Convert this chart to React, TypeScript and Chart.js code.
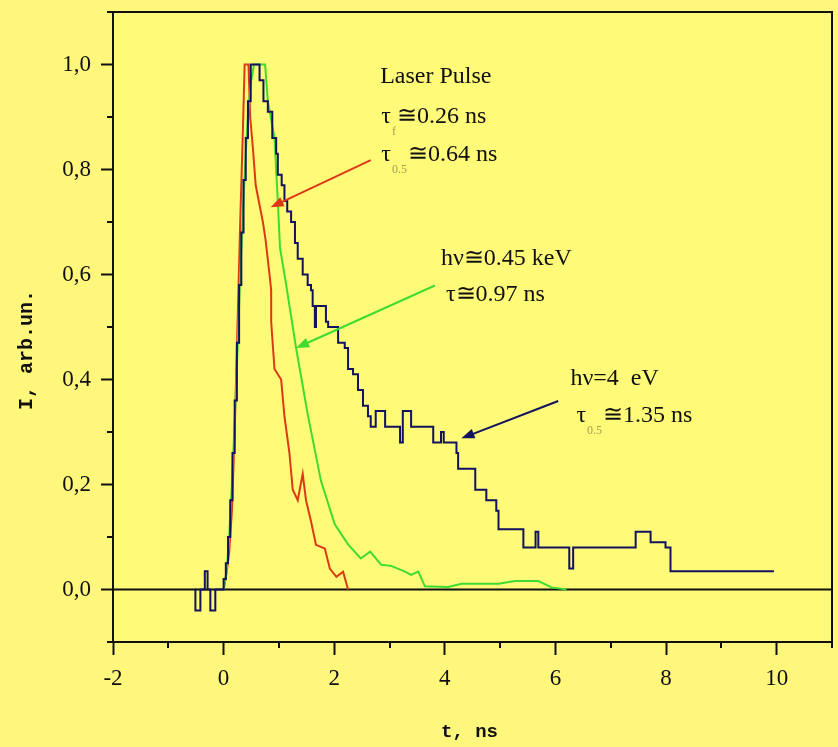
import React, { useEffect, useRef } from 'react';
import { Chart, registerables } from 'chart.js';

Chart.register(...registerables);

// ---- time axis (ns) and intensity (arb. units) for each trace ----
const laserT = [0.0, 0.05, 0.1, 0.15, 0.2, 0.25, 0.3, 0.35, 0.38, 0.45, 0.48, 0.53, 0.58, 0.71, 0.76, 0.83, 0.86, 0.86, 0.92, 1.04, 1.1, 1.19, 1.25, 1.34, 1.43, 1.49, 1.58, 1.67, 1.83, 1.92, 2.04, 2.16, 2.25];
const laserI = [0.0, 0.03, 0.07, 0.15, 0.3, 0.5, 0.7, 0.88, 1.0, 1.0, 0.9, 0.84, 0.77, 0.7, 0.665, 0.6, 0.57, 0.51, 0.42, 0.4, 0.33, 0.26, 0.19, 0.17, 0.22, 0.17, 0.13, 0.085, 0.078, 0.04, 0.024, 0.034, 0.0];

const keVT = [0.0, 0.05, 0.1, 0.15, 0.2, 0.25, 0.3, 0.35, 0.4, 0.45, 0.5, 0.55, 0.75, 0.8, 0.92, 0.98, 1.02, 1.1, 1.12, 1.31, 1.52, 1.76, 2.01, 2.25, 2.48, 2.65, 2.85, 3.03, 3.28, 3.39, 3.52, 3.64, 4.06, 4.3, 4.97, 5.27, 5.69, 5.93, 6.2];
const keVI = [0.0, 0.03, 0.1, 0.2, 0.32, 0.45, 0.6, 0.72, 0.83, 0.92, 0.97, 1.0, 1.0, 0.93, 0.86, 0.74, 0.65, 0.6, 0.588, 0.46, 0.334, 0.207, 0.124, 0.086, 0.059, 0.072, 0.047, 0.045, 0.034, 0.028, 0.034, 0.006, 0.005, 0.011, 0.011, 0.016, 0.016, 0.004, 0.0];

// 4 eV trace is a sampled staircase: each level holds from its time stamp to the next one
const eVT = [-0.52, -0.51, -0.42, -0.34, -0.29, -0.24, -0.15, 0.0, 0.04, 0.08, 0.12, 0.16, 0.2, 0.24, 0.28, 0.32, 0.36, 0.4, 0.44, 0.49, 0.65, 0.72, 0.8, 0.88, 0.95, 0.98, 1.05, 1.1, 1.15, 1.22, 1.29, 1.34, 1.43, 1.52, 1.58, 1.61, 1.65, 1.67, 1.85, 1.89, 2.07, 2.19, 2.25, 2.34, 2.43, 2.52, 2.61, 2.66, 2.75, 2.92, 3.19, 3.24, 3.39, 3.79, 3.93, 3.98, 4.21, 4.24, 4.55, 4.75, 4.93, 4.97, 5.42, 5.64, 5.69, 6.25, 6.32, 7.45, 7.72, 7.99, 8.08, 9.95];
const eVI = [0.0, -0.04, 0.0, 0.035, 0.0, -0.04, 0.0, 0.02, 0.05, 0.1, 0.17, 0.26, 0.36, 0.47, 0.58, 0.68, 0.78, 0.86, 0.93, 1.0, 0.97, 0.93, 0.91, 0.86, 0.83, 0.79, 0.77, 0.74, 0.72, 0.7, 0.66, 0.63, 0.6, 0.58, 0.57, 0.54, 0.5, 0.54, 0.51, 0.5, 0.47, 0.46, 0.42, 0.41, 0.38, 0.35, 0.33, 0.31, 0.34, 0.31, 0.28, 0.34, 0.31, 0.28, 0.3, 0.28, 0.26, 0.23, 0.19, 0.17, 0.15, 0.115, 0.08, 0.11, 0.08, 0.04, 0.08, 0.11, 0.09, 0.08, 0.035, 0.035];

// ---- axis ticks ----
const xMajor = [-2, 0, 2, 4, 6, 8, 10];
const xMinor = [-1, 1, 3, 5, 7, 9, 11];
const yMajor = [0, 0.2, 0.4, 0.6, 0.8, 1.0];
const yMinor = [-0.1, 0.1, 0.3, 0.5, 0.7, 0.9, 1.1];

const xTitle = 't, ns';
const yTitle = 'I, arb.un.';

const PAGE_BG = '#fff67c';
const PLOT_BG = '#fffa78';
const INK = '#101010';
const RED = '#dc3a16';
const GREEN = '#3edc30';
const NAVY = '#12125e';
const SUB = '#a3a24e';

type Run = { text: string; sub?: boolean };
type Label = { x: number; y: number; runs: Run[] };
type Arrow = { from: [number, number]; to: [number, number]; color: string };

const labels: Label[] = [
  { x: 2.83, y: 0.965, runs: [{ text: 'Laser Pulse' }] },
  { x: 2.85, y: 0.889, runs: [{ text: 'τ' }, { text: 'f', sub: true }, { text: '≅0.26 ns' }] },
  { x: 2.85, y: 0.817, runs: [{ text: 'τ' }, { text: '0.5', sub: true }, { text: '≅0.64 ns' }] },
  { x: 3.93, y: 0.619, runs: [{ text: 'hν≅0.45 keV' }] },
  { x: 4.02, y: 0.549, runs: [{ text: 'τ≅0.97 ns' }] },
  { x: 6.27, y: 0.39, runs: [{ text: 'hν=4  eV' }] },
  { x: 6.38, y: 0.319, runs: [{ text: 'τ' }, { text: '0.5', sub: true }, { text: '≅1.35 ns' }] },
];

const arrows: Arrow[] = [
  { from: [2.66, 0.818], to: [0.85, 0.728], color: RED },
  { from: [3.82, 0.579], to: [1.31, 0.46], color: GREEN },
  { from: [6.05, 0.359], to: [4.3, 0.288], color: NAVY },
];

const pts = (t: number[], v: number[]) => t.map((x, i) => ({ x, y: v[i] }));

const decor = {
  id: 'decor',
  beforeDraw(chart: any) {
    const { ctx, chartArea: a } = chart;
    ctx.save();
    ctx.fillStyle = PLOT_BG;
    ctx.fillRect(a.left, a.top, a.right - a.left, a.bottom - a.top);
    ctx.restore();
  },
  beforeDatasetsDraw(chart: any) {
    const { ctx, chartArea: a, scales } = chart;
    const y0 = scales.y.getPixelForValue(0);
    ctx.save();
    ctx.strokeStyle = INK;
    ctx.lineWidth = 2;
    ctx.beginPath();
    ctx.moveTo(a.left, y0);
    ctx.lineTo(a.right, y0);
    ctx.stroke();
    ctx.restore();
  },
  afterDraw(chart: any) {
    const { ctx, chartArea: a, scales } = chart;
    const sx = scales.x;
    const sy = scales.y;
    ctx.save();
    // frame
    ctx.strokeStyle = INK;
    ctx.lineWidth = 2;
    ctx.strokeRect(a.left, a.top, a.right - a.left, a.bottom - a.top);
    // minor ticks
    ctx.beginPath();
    xMinor.forEach((v) => {
      const px = Math.round(sx.getPixelForValue(v));
      ctx.moveTo(px, a.bottom);
      ctx.lineTo(px, a.bottom + 6);
    });
    yMinor.forEach((v) => {
      const py = Math.round(sy.getPixelForValue(v));
      ctx.moveTo(a.left, py);
      ctx.lineTo(a.left - 6, py);
    });
    ctx.stroke();

    // axis titles
    ctx.fillStyle = INK;
    ctx.font = 'bold 20px "Liberation Mono", monospace';
    ctx.textAlign = 'center';
    ctx.textBaseline = 'middle';
    ctx.save();
    ctx.translate(27, 350);
    ctx.rotate(-Math.PI / 2);
    ctx.fillText(yTitle, 0, 0);
    ctx.restore();
    ctx.font = 'bold 19px "Liberation Mono", monospace';
    ctx.textBaseline = 'alphabetic';
    ctx.fillText(xTitle, (a.left + a.right) / 2 - 3, 737);

    // arrows
    arrows.forEach((ar) => {
      const x1 = sx.getPixelForValue(ar.from[0]);
      const y1 = sy.getPixelForValue(ar.from[1]);
      const x2 = sx.getPixelForValue(ar.to[0]);
      const y2 = sy.getPixelForValue(ar.to[1]);
      const ang = Math.atan2(y2 - y1, x2 - x1);
      const hl = 13;
      const hw = 5;
      ctx.strokeStyle = ar.color;
      ctx.fillStyle = ar.color;
      ctx.lineWidth = 2;
      ctx.beginPath();
      ctx.moveTo(x1, y1);
      ctx.lineTo(x2 - Math.cos(ang) * hl * 0.8, y2 - Math.sin(ang) * hl * 0.8);
      ctx.stroke();
      ctx.beginPath();
      ctx.moveTo(x2, y2);
      ctx.lineTo(
        x2 - Math.cos(ang) * hl - Math.sin(ang) * hw,
        y2 - Math.sin(ang) * hl + Math.cos(ang) * hw
      );
      ctx.lineTo(
        x2 - Math.cos(ang) * hl + Math.sin(ang) * hw,
        y2 - Math.sin(ang) * hl - Math.cos(ang) * hw
      );
      ctx.closePath();
      ctx.fill();
    });

    // text labels
    ctx.textAlign = 'left';
    ctx.textBaseline = 'alphabetic';
    labels.forEach((lb) => {
      let x = sx.getPixelForValue(lb.x);
      const y = sy.getPixelForValue(lb.y);
      lb.runs.forEach((r) => {
        if (r.sub) {
          ctx.font = '12px "Liberation Serif", serif';
          ctx.fillStyle = SUB;
          ctx.fillText(r.text, x + 1, y + 12);
          x += ctx.measureText(r.text).width + 2;
        } else {
          ctx.font = '24px "Liberation Serif", serif';
          ctx.fillStyle = INK;
          ctx.fillText(r.text, x, y);
          x += ctx.measureText(r.text).width;
        }
      });
    });
    ctx.restore();
  },
};

export default function App() {
  const ref = useRef<HTMLCanvasElement | null>(null);

  useEffect(() => {
    if (!ref.current) return;
    const chart = new Chart(ref.current, {
      type: 'line',
      data: {
        datasets: [
          {
            label: 'hν=4 eV',
            data: pts(eVT, eVI),
            borderColor: NAVY,
            borderWidth: 2,
            pointRadius: 0,
            stepped: 'before',
            fill: false,
          },
          {
            label: 'hν≅0.45 keV',
            data: pts(keVT, keVI),
            borderColor: GREEN,
            borderWidth: 2,
            pointRadius: 0,
            tension: 0,
            fill: false,
          },
          {
            label: 'Laser Pulse',
            data: pts(laserT, laserI),
            borderColor: RED,
            borderWidth: 2,
            pointRadius: 0,
            tension: 0,
            fill: false,
          },
        ],
      },
      options: {
        animation: false,
        responsive: false,
        devicePixelRatio: 1,
        layout: { padding: { left: 0, right: 6, top: 12, bottom: 0 } },
        plugins: {
          legend: { display: false },
          tooltip: { enabled: false },
        },
        scales: {
          x: {
            type: 'linear',
            min: -2,
            max: 11,
            afterBuildTicks: (s: any) => {
              s.ticks = xMajor.map((v) => ({ value: v }));
            },
            afterFit: (s: any) => {
              s.height = 105;
              s.paddingLeft = 0;
              s.paddingRight = 0;
            },
            ticks: {
              color: INK,
              padding: 10,
              maxRotation: 0,
              font: { family: '"Liberation Serif", serif', size: 23 },
              callback: (v: any) => String(v),
            },
            grid: {
              drawOnChartArea: false,
              drawTicks: true,
              tickLength: 13,
              tickWidth: 2,
              tickColor: INK,
            },
            border: { display: false },
          },
          y: {
            type: 'linear',
            min: -0.1,
            max: 1.1,
            afterBuildTicks: (s: any) => {
              s.ticks = yMajor.map((v) => ({ value: v }));
            },
            afterFit: (s: any) => {
              s.width = 113;
              s.paddingTop = 0;
              s.paddingBottom = 0;
            },
            ticks: {
              color: INK,
              padding: 10,
              font: { family: '"Liberation Serif", serif', size: 23 },
              callback: (v: any) => Number(v).toFixed(1).replace('.', ','),
            },
            grid: {
              drawOnChartArea: false,
              drawTicks: true,
              tickLength: 12,
              tickWidth: 2,
              tickColor: INK,
            },
            border: { display: false },
          },
        },
      },
      plugins: [decor],
    });
    return () => chart.destroy();
  }, []);

  return (
    <div
      style={{
        position: 'fixed',
        left: 0,
        top: 0,
        width: 838,
        height: 747,
        background: PAGE_BG,
      }}
    >
      <canvas ref={ref} width={838} height={747} style={{ display: 'block' }} />
    </div>
  );
}
